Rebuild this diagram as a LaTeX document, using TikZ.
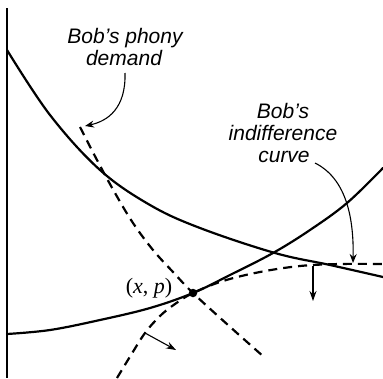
\documentclass[tikz,border=0pt]{standalone}
\usepackage{fontspec}
\setmainfont{Liberation Serif}
\newfontfamily\handfont{Liberation Sans}
\usetikzlibrary{arrows.meta}
\tikzset{
  curvesolid/.style={line width=2.2pt, line cap=round},
  curvedash/.style={line width=2.2pt, dash pattern=on 9pt off 6pt},
  axisline/.style={line width=1.3pt},
  labelarrow/.style={line width=1.1pt, -{Stealth[length=9pt, width=7pt]}},
  shiftarrow/.style={line width=1.1pt, -{Stealth[length=10pt, width=7pt]}},
  handtext/.style={font=\handfont\itshape\fontsize{21}{22}\selectfont, anchor=base, inner sep=0pt},
  ptlabel/.style={font=\fontsize{22}{24}\selectfont, anchor=base, inner sep=0pt},
}
\begin{document}
\begin{tikzpicture}[x=1pt, y=-1pt]
\useasboundingbox (0,0) rectangle (383,378);
% axis
\coordinate (axtop) at (7,8);
\coordinate (axbot) at (7,378);
\draw[axisline] (axtop) -- (axbot);
% decreasing solid curve
\draw[curvesolid] plot[smooth, tension=0.6] coordinates {(7,50) (50,115) (100,170) (150,205) (200,228) (275,253) (330,265) (383,277)};
% increasing solid curve
\draw[curvesolid] plot[smooth, tension=0.6] coordinates {(7,334) (50,330) (100,320) (150,308) (193,293) (230,275) (273,253) (310,230) (347,203) (383,168)};
% phony demand (dashed)
\draw[curvedash] plot[smooth, tension=0.6] coordinates {(80,127) (97,160) (115,193) (133,223) (153,250) (173,272) (193,293) (228,325) (264,357)};
% lower dashed curve
\draw[curvedash] plot[smooth, tension=0.6] coordinates {(117,378) (131,355) (145,333) (160,316) (175,304) (193,293) (223,281) (260,272) (300,266) (340,264) (383,264)};
% point
\node[circle, fill=black, inner sep=0pt, minimum size=8.5pt] (pt) at (193,293) {};
\node[ptlabel] (ptlab) at (149,293) {(\textit{x}, \textit{p})};
% shift arrows
\coordinate (sa1) at (313,266);
\coordinate (sa1e) at (313,301);
\draw[shiftarrow] (sa1) -- (sa1e);
\coordinate (sa2) at (145,333);
\coordinate (sa2e) at (176,350);
\draw[shiftarrow] (sa2) -- (sa2e);
% labels
\node[handtext] (pd1) at (125,43) {Bob’s phony};
\node[handtext] (pd2) at (124,65) {demand};
\node[handtext] (ic1) at (283,118) {Bob’s};
\node[handtext] (ic2) at (283,140) {indifference};
\node[handtext] (ic3) at (284,162) {curve};
% label arrows
\coordinate (pdstart) at (125,73);
\coordinate (pdtip) at (85,126);
\draw[labelarrow] (pdstart) .. controls (126,108) and (108,121) .. (pdtip);
\coordinate (icstart) at (315,163);
\coordinate (ictip) at (353,263);
\draw[labelarrow] (icstart) .. controls (345,178) and (354,215) .. (ictip);
\end{tikzpicture}
\end{document}
